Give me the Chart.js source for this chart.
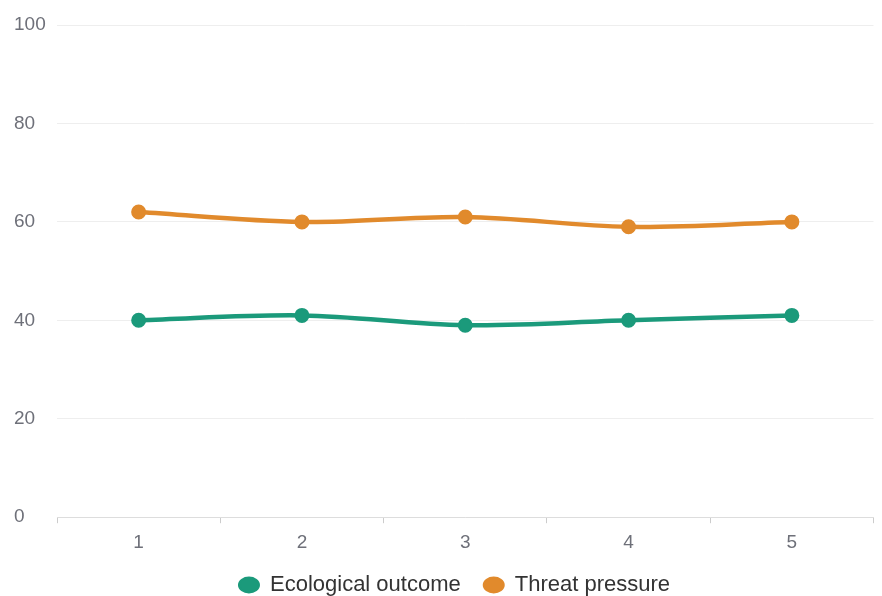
<!DOCTYPE html>
<html>
<head>
<meta charset="utf-8">
<script src="https://cdn.jsdelivr.net/npm/chart.js@4/dist/chart.umd.min.js"></script>
<style>
  html, body { margin: 0; padding: 0; background: #ffffff; }
  #wrap { width: 882px; height: 596px; position: relative; }
</style>
</head>
<body>
<div id="wrap"><canvas id="chart"></canvas></div>
<script>
const categories = ['1', '2', '3', '4', '5'];
const ecologicalOutcome = [40, 41, 39, 40, 41];
const threatPressure = [62, 60, 61, 59, 60];
const yTicks = [0, 20, 40, 60, 80, 100];

const FONT = "'Liberation Sans', Arial, sans-serif";
const LEGEND_HEIGHT = 34;
const LEGEND_SHIFT = { x: 10, y: -11 };

// Keep the bottom legend compact and nudge it into place below the axis.
const compactLegend = {
  id: 'compactLegend',
  afterInit(chart) {
    const legend = chart.legend;
    if (!legend) return;
    const fit = legend.fit.bind(legend);
    legend.fit = function () {
      fit();
      this.height = LEGEND_HEIGHT;
    };
    const draw = legend.draw.bind(legend);
    legend.draw = function () {
      const saved = { top: this.top, left: this.left, right: this.right };
      this.top += LEGEND_SHIFT.y;
      this.left += LEGEND_SHIFT.x;
      this.right += LEGEND_SHIFT.x;
      draw();
      Object.assign(this, saved);
    };
  }
};

function seriesStyle(color) {
  return {
    borderColor: color,
    backgroundColor: color,
    borderWidth: 4.5,
    pointRadius: 6.5,
    pointBorderWidth: 2,
    pointHoverRadius: 6.5,
    tension: 0.35,
    pointStyle: 'circle'
  };
}

new Chart(document.getElementById('chart'), {
  type: 'line',
  data: {
    labels: categories,
    datasets: [
      Object.assign({ label: 'Ecological outcome', data: ecologicalOutcome }, seriesStyle('#1b9a7b')),
      Object.assign({ label: 'Threat pressure', data: threatPressure }, seriesStyle('#e18a2c'))
    ]
  },
  plugins: [compactLegend],
  options: {
    responsive: true,
    maintainAspectRatio: false,
    animation: false,
    layout: { padding: { left: 14, right: 7, top: 25, bottom: 0 } },
    plugins: {
      tooltip: { enabled: false },
      legend: {
        position: 'bottom',
        labels: {
          usePointStyle: true,
          pointStyleWidth: 20,
          boxHeight: 10.5,
          color: '#333333',
          font: { family: FONT, size: 22 },
          padding: 23
        }
      }
    },
    scales: {
      x: {
        offset: true,
        grid: {
          offset: true,
          drawOnChartArea: false,
          drawTicks: true,
          tickLength: 6,
          color: '#cccccc'
        },
        border: { display: true, color: '#dddddd', width: 1 },
        ticks: {
          color: '#6e7079',
          font: { family: FONT, size: 19 },
          padding: 8
        }
      },
      y: {
        min: 0,
        max: 100,
        afterBuildTicks: (scale) => { scale.ticks = yTicks.map(v => ({ value: v })); },
        afterFit: (scale) => { scale.width = 43; },
        grid: { color: '#eeeeee', drawTicks: false },
        border: { display: false },
        ticks: {
          crossAlign: 'far',
          color: '#6e7079',
          font: { family: FONT, size: 19 },
          padding: 0
        }
      }
    }
  }
});
</script>
</body>
</html>
